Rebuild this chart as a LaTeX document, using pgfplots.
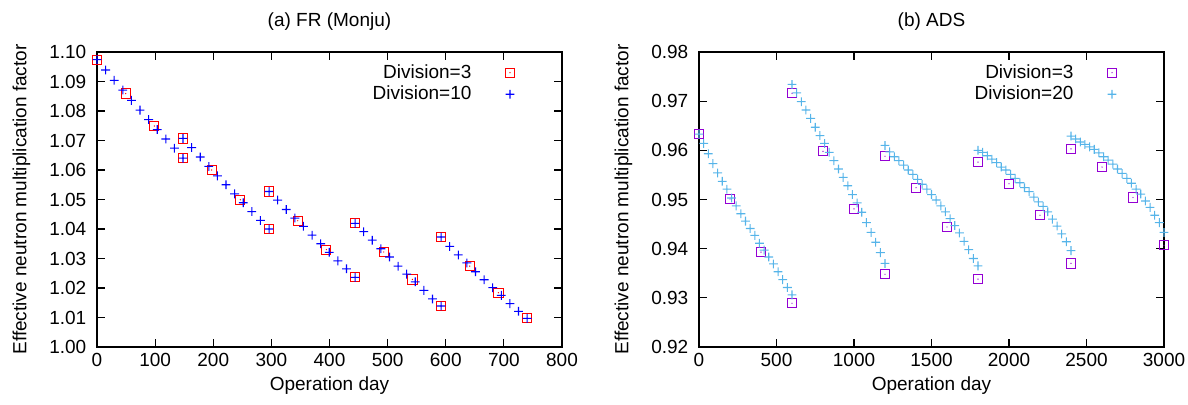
\documentclass[border=0pt]{standalone}
\usepackage{pgfplots}
\pgfplotsset{compat=1.18}
\usepackage{fontspec}
\setmainfont{Liberation Sans}

\definecolor{dviolet}{HTML}{9400D3}
\definecolor{skyb}{HTML}{56B4E9}

% marks set their own colour (gnuplot style: open square with a centre dot, and a plus)
\newcommand\gpsquare[1]{%
  \pgfsetstrokecolor{#1}\pgfsetfillcolor{#1}%
  \pgfpathrectangle{\pgfqpoint{-\pgfplotmarksize}{-\pgfplotmarksize}}{\pgfqpoint{2\pgfplotmarksize}{2\pgfplotmarksize}}%
  \pgfusepathqstroke
  \pgfpathcircle{\pgfpointorigin}{0.35bp}%
  \pgfusepathqfill}
\newcommand\gpplus[1]{%
  \pgfsetstrokecolor{#1}\pgfsetfillcolor{#1}%
  \pgfpathrectangle{\pgfqpoint{-\pgfplotmarksize}{-0.27bp}}{\pgfqpoint{2\pgfplotmarksize}{0.54bp}}%
  \pgfpathrectangle{\pgfqpoint{-0.27bp}{-\pgfplotmarksize}}{\pgfqpoint{0.54bp}{2\pgfplotmarksize}}%
  \pgfusepathqfill}
\pgfdeclareplotmark{sqred}{\gpsquare{red}}
\pgfdeclareplotmark{sqviolet}{\gpsquare{dviolet}}
\pgfdeclareplotmark{plblue}{\gpplus{blue}}
\pgfdeclareplotmark{plsky}{\gpplus{skyb}}

\pgfplotsset{
  gp/.style={
    scale only axis, width=232.5bp, height=147.5bp,
    clip=false,
    axis line style={line width=0.6bp},
    every tick/.style={black, line width=0.6bp},
    major tick length=4bp,
    tick align=inside,
    scaled ticks=false,
    /pgf/number format/assume math mode=true,
    /pgf/number format/1000 sep={},
    title style={yshift=1.5bp},
    xlabel style={yshift=2bp},
    ylabel style={yshift=3bp},
    y tick label style={xshift=-2bp},
    legend style={draw=none, fill=none, at={(1,1)}, anchor=north east,
      xshift=-20.5bp, yshift=-2bp, row sep=-1.5bp, column sep=15bp},
    legend plot pos=right, legend cell align=right,
  },
  sq/.style={only marks, mark=#1, mark size=2.3bp, mark options={line width=0.5bp}},
  pl/.style={only marks, mark=#1, mark size=2.2bp},
}

\begin{document}
\fontsize{9.5bp}{11bp}\selectfont
\begin{tikzpicture}
\useasboundingbox (-48.5bp,-29bp) rectangle (545.5bp,173.5bp);

\begin{axis}[gp, at={(0bp,0bp)}, anchor=south west,
  title={(a) FR (Monju)},
  xlabel={Operation day}, ylabel={Effective neutron multiplication factor},
  xmin=0, xmax=800, ymin=1.00, ymax=1.10,
  xtick={0,100,...,800}, ytick={1.00,1.01,...,1.10},
  y tick label style={/pgf/number format/.cd, fixed, fixed zerofill, precision=2},
]
\addplot[sq=sqred] coordinates {
(0,1.0974) (49.33,1.0859) (98.67,1.0749) (148,1.0640)
(148,1.0707) (197.33,1.0600) (246.67,1.0499) (296,1.0400)
(296,1.0527) (345.33,1.0428) (394.67,1.0330) (444,1.0236)
(444,1.0419) (493.33,1.0322) (542.67,1.0229) (592,1.0139)
(592,1.0373) (641.33,1.0274) (690.67,1.0184) (740,1.0097)
};
\addlegendentry{Division=3}
\addplot[pl=plblue] coordinates {
(0,1.0974) (14.8,1.0939) (29.6,1.0904) (44.4,1.0871) (59.2,1.0836) (74,1.0803)
(88.8,1.0771) (103.6,1.0737) (118.4,1.0705) (133.2,1.0674) (148,1.0640)
(148,1.0707) (162.8,1.0676) (177.6,1.0644) (192.4,1.0612) (207.2,1.0580) (222,1.0550)
(236.8,1.0519) (251.6,1.0489) (266.4,1.0459) (281.2,1.0429) (296,1.0400)
(296,1.0527) (310.8,1.0498) (325.6,1.0466) (340.4,1.0437) (355.2,1.0409) (370,1.0379)
(384.8,1.0350) (399.6,1.0321) (414.4,1.0292) (429.2,1.0265) (444,1.0236)
(444,1.0419) (458.8,1.0391) (473.6,1.0362) (488.4,1.0333) (503.2,1.0305) (518,1.0274)
(532.8,1.0247) (547.6,1.0221) (562.4,1.0192) (577.2,1.0163) (592,1.0139)
(592,1.0373) (606.8,1.0341) (621.6,1.0312) (636.4,1.0285) (651.2,1.0255) (666,1.0228)
(680.8,1.0201) (695.6,1.0175) (710.4,1.0147) (725.2,1.0121) (740,1.0097)
};
\addlegendentry{Division=10}
\end{axis}

\begin{axis}[gp, at={(301bp,0bp)}, anchor=south west,
  title={(b) ADS},
  xlabel={Operation day}, ylabel={Effective neutron multiplication factor},
  xmin=0, xmax=3000, ymin=0.92, ymax=0.98,
  xtick={0,500,...,3000}, ytick={0.92,0.93,...,0.98},
  y tick label style={/pgf/number format/.cd, fixed, fixed zerofill, precision=2},
]
\addplot[sq=sqviolet] coordinates {
(0,0.9633) (200,0.9501) (400,0.9393) (600,0.9289)
(600,0.9716) (800,0.9598) (1000,0.9481) (1200,0.9348)
(1200,0.9588) (1400,0.9524) (1600,0.9444) (1800,0.9338)
(1800,0.9576) (2000,0.9532) (2200,0.9468) (2400,0.9370)
(2400,0.9603) (2600,0.9566) (2800,0.9504) (3000,0.9407)
};
\addlegendentry{Division=3}
\addplot[pl=plsky] coordinates {
(0,0.9633) (30,0.9614) (60,0.9593) (90,0.9573) (120,0.9554) (150,0.9537) (180,0.9521)
(210,0.9503) (240,0.9487) (270,0.9471) (300,0.9456) (330,0.9441) (360,0.9427)
(390,0.9411) (420,0.9397) (450,0.9383) (480,0.9369) (510,0.9353) (540,0.9337)
(570,0.9321) (600,0.9306)
(600,0.9734) (630,0.9717) (660,0.9699) (690,0.9682) (720,0.9665) (750,0.9647) (780,0.9630)
(810,0.9614) (840,0.9596) (870,0.9579) (900,0.9562) (930,0.9545) (960,0.9528)
(990,0.9510) (1020,0.9493) (1050,0.9474) (1080,0.9453) (1110,0.9433) (1140,0.9413)
(1170,0.9392) (1200,0.9370)
(1200,0.9610) (1230,0.9597) (1260,0.9587) (1290,0.9579) (1320,0.9570) (1350,0.9560) (1380,0.9551)
(1410,0.9541) (1440,0.9531) (1470,0.9521) (1500,0.9510) (1530,0.9499) (1560,0.9487)
(1590,0.9475) (1620,0.9461) (1650,0.9447) (1680,0.9432) (1710,0.9415) (1740,0.9398)
(1770,0.9380) (1800,0.9365)
(1800,0.9600) (1830,0.9596) (1860,0.9589) (1890,0.9582) (1920,0.9575) (1950,0.9566) (1980,0.9560)
(2010,0.9551) (2040,0.9543) (2070,0.9534) (2100,0.9524) (2130,0.9516) (2160,0.9505)
(2190,0.9495) (2220,0.9486) (2250,0.9475) (2280,0.9460) (2310,0.9446) (2340,0.9430)
(2370,0.9414) (2400,0.9396)
(2400,0.9629) (2430,0.9623) (2460,0.9617) (2490,0.9612) (2520,0.9607) (2550,0.9602) (2580,0.9595)
(2610,0.9587) (2640,0.9580) (2670,0.9572) (2700,0.9562) (2730,0.9553) (2760,0.9543)
(2790,0.9533) (2820,0.9521) (2850,0.9511) (2880,0.9497) (2910,0.9484) (2940,0.9468)
(2970,0.9453) (3000,0.9433)
};
\addlegendentry{Division=20}
\end{axis}
\end{tikzpicture}
\end{document}
